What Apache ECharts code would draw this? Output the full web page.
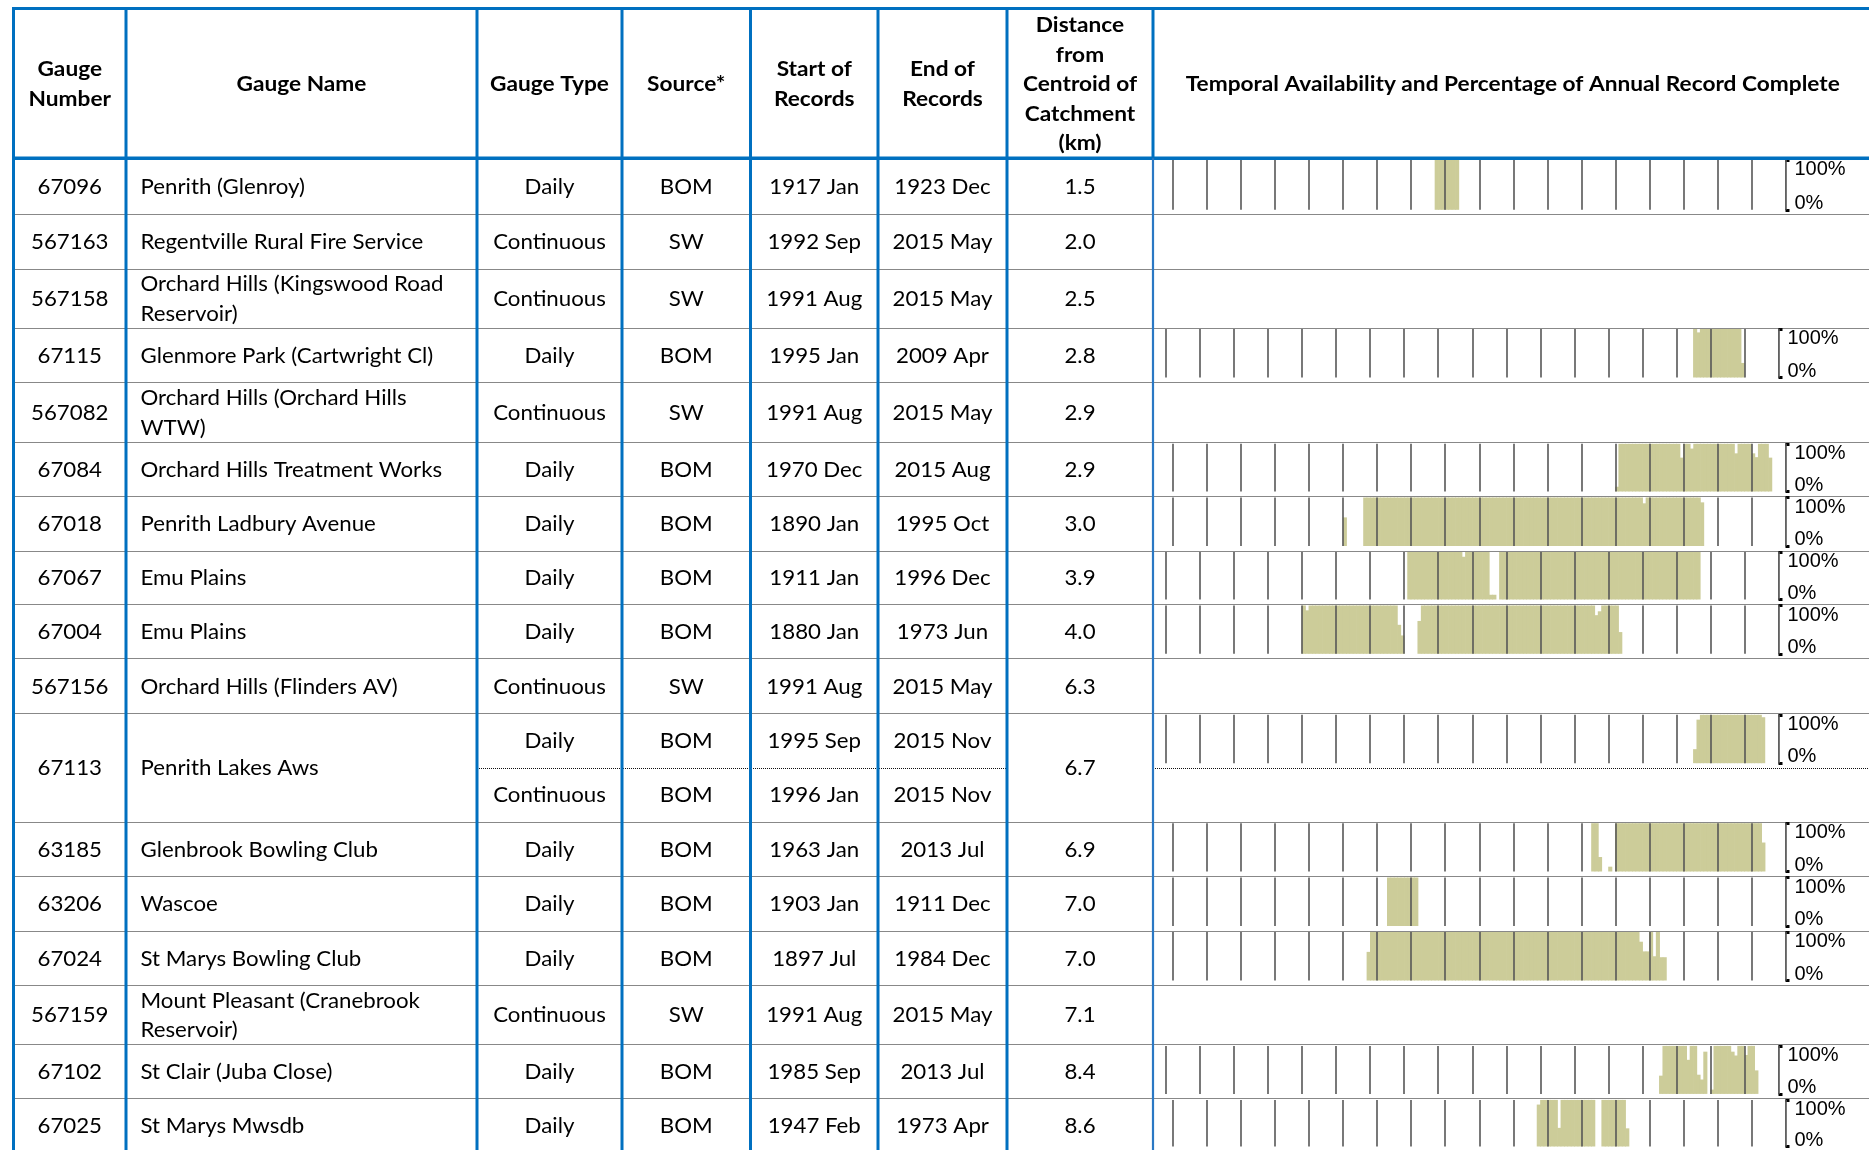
<!DOCTYPE html>
<html><head><meta charset="utf-8">
<script src="https://cdn.jsdelivr.net/npm/echarts@6/dist/echarts.min.js"></script>
<style>html,body{margin:0;padding:0;background:#fff;overflow:hidden}#c{width:1869px;height:1150px}</style>
</head><body><div id="c"></div>
<script>
// ================= DATA =================
// Gauge-level values (one per gauge)
const gaugeNumbers = ['67096','567163','567158','67115','567082','67084','67018','67067','67004','567156','67113','63185','63206','67024','567159','67102','67025'];
const gaugeNames = [['Penrith (Glenroy)'],['Regentville Rural Fire Service'],['Orchard Hills (Kingswood Road','Reservoir)'],['Glenmore Park (Cartwright Cl)'],['Orchard Hills (Orchard Hills','WTW)'],['Orchard Hills Treatment Works'],['Penrith Ladbury Avenue'],['Emu Plains'],['Emu Plains'],['Orchard Hills (Flinders AV)'],['Penrith Lakes Aws'],['Glenbrook Bowling Club'],['Wascoe'],['St Marys Bowling Club'],['Mount Pleasant (Cranebrook','Reservoir)'],['St Clair (Juba Close)'],['St Marys Mwsdb']];
const distances = ['1.5','2.0','2.5','2.8','2.9','2.9','3.0','3.9','4.0','6.3','6.7','6.9','7.0','7.0','7.1','8.4','8.6'];
// Record-level values (67113 has two records)
const recGauge  = [0,1,2,3,4,5,6,7,8,9,10,10,11,12,13,14,15,16];
const recTypes  = ['Daily','Continuous','Continuous','Daily','Continuous','Daily','Daily','Daily','Daily','Continuous','Daily','Continuous','Daily','Daily','Daily','Continuous','Daily','Daily'];
const recSources= ['BOM','SW','SW','BOM','SW','BOM','BOM','BOM','BOM','SW','BOM','BOM','BOM','BOM','BOM','SW','BOM','BOM'];
const recStarts = ['1917 Jan','1992 Sep','1991 Aug','1995 Jan','1991 Aug','1970 Dec','1890 Jan','1911 Jan','1880 Jan','1991 Aug','1995 Sep','1996 Jan','1963 Jan','1903 Jan','1897 Jul','1991 Aug','1985 Sep','1947 Feb'];
const recEnds   = ['1923 Dec','2015 May','2015 May','2009 Apr','2015 May','2015 Aug','1995 Oct','1996 Dec','1973 Jun','2015 May','2015 Nov','2015 Nov','2013 Jul','1911 Dec','1984 Dec','2015 May','2013 Jul','1973 Apr'];
// Header texts
const headers = [['Gauge','Number'],['Gauge Name'],['Gauge Type'],['Source*'],['Start of','Records'],['End of','Records'],['Distance','from','Centroid of','Catchment','(km)'],['Temporal Availability and Percentage of Annual Record Complete']];
const yTicks = [0, 100];
const xTicks = [1840, 2020, 10]; // min, max, step of the decade grid

// Annual percentage of record complete (first year, then one value per year)
const start67096 = 1917; const pct67096 = [100,100,100,100,100,100,100];
const start67115 = 1995; const pct67115 = [100,93,100,100,100, 100,100,100,100,100, 100,100,100,100,30];
const start67084 = 1970; const pct67084 = [
  10,100,100,100,100,100,100,100,100,100,
  100,100,100,100,100,100,100,100,100,71,
  100,100,90,100,100,100,100,100,100,100,
  100,100,100,100,100,80,100,100,100,100,
  80,72,100,100,100,71];
const start67018 = 1890; const pct67018 = [
  59,0,0,0,0,0,100,100,100,100,
  100,100,100,100,100,100,100,100,100,100,
  100,100,100,100,100,100,100,100,100,100,
  100,100,100,100,100,100,100,100,100,100,
  100,100,100,100,100,100,100,100,100,100,
  100,100,100,100,100,100,100,100,100,100,
  100,100,100,100,100,100,100,100,100,100,
  100,100,100,100,100,100,100,100,100,100,
  100,100,100,100,100,100,100,100,88,100,
  100,100,100,100,100,100,100,100,100,100,
  100,100,100,100,100,90];
const start67067 = 1911; const pct67067 = [
  100,100,100,100,100,100,100,100,100,
  100,100,100,100,100,100,100,90,100,100,
  100,100,100,100,100,10,10,0,100,100,
  100,100,100,100,100,100,100,100,100,100,
  100,100,100,100,100,100,100,100,100,100,
  100,100,100,100,100,100,100,100,100,100,
  100,100,100,100,100,100,100,100,100,100,
  100,100,100,100,100,100,100,100,100,100,
  100,100,100,100,100,100,100];
const start67004 = 1880; const pct67004 = [
  100,90,100,100,100,100,100,100,100,100,
  100,100,100,100,100,100,100,100,100,100,
  100,100,100,100,100,100,100,100,60,38,
  0,0,0,0,68,100,100,100,100,100,
  100,100,100,100,100,100,100,100,100,100,
  100,100,100,100,100,100,100,100,100,100,
  100,100,100,100,100,100,100,100,100,100,
  100,100,100,100,100,100,100,100,100,100,
  100,100,100,100,100,100,80,88,100,100,
  100,100,100,45];
const start67113 = 1995; const pct67113 = [29,90,100,100,100, 100,100,100,100,100,100,100,100,100,100, 100,100,100,100,100,95];
const start63185 = 1963; const pct63185 = [
  100,100,30,0,0,10,0,
  100,100,100,100,100,100,100,100,100,100,
  100,100,100,100,100,100,100,100,100,100,
  100,100,100,100,100,100,100,100,100,100,
  100,100,100,100,100,100,100,100,100,100,
  100,100,100,60];
const start63206 = 1903; const pct63206 = [100,100,100,100,100,100,100,100,100];
const start67024 = 1897; const pct67024 = [
  59,100,100,
  100,100,100,100,100,100,100,100,100,100,
  100,100,100,100,100,100,100,100,100,100,
  100,100,100,100,100,100,100,100,100,100,
  100,100,100,100,100,100,100,100,100,100,
  100,100,100,100,100,100,100,100,100,100,
  100,100,100,100,100,100,100,100,100,100,
  100,100,100,100,100,100,100,100,100,100,
  100,100,100,100,100,100,100,80,60,60,
  100,50,100,48,48];
const start67102 = 1985; const pct67102 = [
  38,100,100,100,100,
  100,100,100,71,100,100,40,30,88,0,
  9,100,100,100,100,100,88,80,100,100,
  81,100,100,49];
const start67025 = 1947; const pct67025 = [
  90,100,100,
  100,100,100,40,100,100,100,100,100,100,
  100,100,100,100,0,0,100,100,100,100,
  100,100,100,39];

// which record row each sparkline sits in
const sparks = [
  {rec:0,  start:start67096, pct:pct67096},
  {rec:3,  start:start67115, pct:pct67115},
  {rec:5,  start:start67084, pct:pct67084},
  {rec:6,  start:start67018, pct:pct67018},
  {rec:7,  start:start67067, pct:pct67067},
  {rec:8,  start:start67004, pct:pct67004},
  {rec:10, start:start67113, pct:pct67113},
  {rec:12, start:start63185, pct:pct63185},
  {rec:13, start:start63206, pct:pct63206},
  {rec:14, start:start67024, pct:pct67024},
  {rec:16, start:start67102, pct:pct67102},
  {rec:17, start:start67025, pct:pct67025}
];

// ================= LAYOUT =================
const W = 1869;
const colX = [13.5, 126, 477, 622, 750.5, 878, 1007, 1153];
const tableTop = 8.5, headBottom = 158.3;
const recLines = [158.3, 214.3, 268.5, 327.5, 382, 442.3, 496, 550.5, 604, 658.3, 713.3, 767.7, 821.7, 876, 930.5, 985, 1044.4, 1098.4, 1152.5];
const sparkLeft = [1173, 1166, 1173, 1173, 1166, 1166, 1166, 1173, 1173, 1173, 1166, 1173];
const sparkWidth = 612.5;
const BLUE = '#0070C0';
const FONT = 'Lato, "Open Sans", sans-serif';
const FS = 21;
const AXFONT = '"Liberation Sans", Arial, sans-serif';

const g = [];
function txt(x, y, s, bold, align) {
  g.push({type:'text', silent:true, z:10, x:x, y:y + 1, scaleX: bold ? 1.08 : 1.06,
    style:{text:s, x:0, y:0, fill:'#000',
    font:(bold?'bold ':'') + FS + 'px ' + FONT, textAlign:align||'center', textVerticalAlign:'middle', align:align||'center', verticalAlign:'middle'}});
}
function line(x1,y1,x2,y2,stroke,w,dash){
  g.push({type:'line', silent:true, z:dash?8:12, shape:{x1,y1,x2,y2}, style:{stroke, lineWidth:w, lineDash:dash||null}});
}
function lines(cx, cy, arr, bold, align, lh){
  const n = arr.length; lh = lh || 29.4;
  arr.forEach((s,i)=> txt(cx, cy + (i-(n-1)/2)*lh, s, bold, align));
}

// header texts
const headCy = (tableTop + headBottom)/2;
headers.forEach((h,i)=>{
  const cx = i < 7 ? (colX[i]+colX[i+1])/2 : 1512.7;
  lines(cx, headCy, h, true, 'center', 29.4);
});

// gauge spans over record rows
const gaugeSpan = gaugeNumbers.map((_,gi)=>{
  const recs = recGauge.map((v,k)=>v===gi?k:-1).filter(k=>k>=0);
  return [recs[0], recs[recs.length-1]];
});
gaugeNumbers.forEach((num,gi)=>{
  const [a,b] = gaugeSpan[gi];
  const cy = (recLines[a] + recLines[b+1])/2;
  txt((colX[0]+colX[1])/2, cy, num, false, 'center');
  lines(140.5, cy, gaugeNames[gi], false, 'left', 29.8);
  txt((colX[6]+colX[7])/2, cy, distances[gi], false, 'center');
});
recTypes.forEach((t,r)=>{
  const cy = (recLines[r] + recLines[r+1])/2;
  txt((colX[2]+colX[3])/2, cy, t, false, 'center');
  txt((colX[3]+colX[4])/2, cy, recSources[r], false, 'center');
  txt((colX[4]+colX[5])/2, cy, recStarts[r], false, 'center');
  txt((colX[5]+colX[6])/2, cy, recEnds[r], false, 'center');
});

// dotted row separators
for (let r = 1; r < recLines.length - 1; r++) {
  const y = Math.round(recLines[r]) + 0.5;
  if (recGauge[r] === recGauge[r-1]) {
    line(colX[2], y, colX[6], y, '#111', 1, [1,1]);
    line(colX[7], y, W, y, '#111', 1, [1,1]);
  } else {
    line(colX[0], y, W, y, '#111', 1, [1,1]);
  }
}
// blue frame
line(colX[0]-1.5, tableTop, W, tableTop, BLUE, 3.2);
line(colX[0]-1.5, headBottom, W, headBottom, BLUE, 3.6);
for (let i = 0; i < 7; i++) line(colX[i], tableTop, colX[i], 1160, BLUE, 3);
line(colX[7], tableTop, colX[7], headBottom, BLUE, 3);
line(colX[7], headBottom, colX[7], 1160, '#2a78c4', 2.2);

// ================= SPARKLINES =================
const grids = [], xAxes = [], yAxes = [], series = [];
sparks.forEach((s,i)=>{
  const top = recLines[s.rec] + 1.5;
  const bottom = recLines[s.rec+1] - 4.5;
  grids.push({left: sparkLeft[i], top: top, width: sparkWidth, height: bottom - top});
  xAxes.push({gridIndex:i, type:'value', min:xTicks[0], max:xTicks[1], interval:xTicks[2], z:5,
    axisLine:{show:false}, axisTick:{show:false}, axisLabel:{show:false},
    splitLine:{show:true, lineStyle:{color:'#575757', width:1.6}}});
  yAxes.push({gridIndex:i, type:'value', min:yTicks[0], max:yTicks[1], interval:yTicks[1]-yTicks[0], position:'right',
    axisLine:{show:true, lineStyle:{color:'#8a8a8a', width:1}},
    axisTick:{show:true, length:4, inside:false, lineStyle:{color:'#000', width:3}},
    axisLabel:{margin:9,
      formatter: v => (v === yTicks[1] ? '{t|' : '{b|') + v + '%}',
      rich:{
        t:{fontFamily:AXFONT, fontSize:20, lineHeight:19, color:'#000'},
        b:{fontFamily:AXFONT, fontSize:20, lineHeight:13, color:'#000'}
      },
      verticalAlignMaxLabel:'top', verticalAlignMinLabel:'bottom'},
    splitLine:{show:false}});
  series.push({type:'bar', xAxisIndex:i, yAxisIndex:i, silent:true,
    data: s.pct.map((v,k)=>[s.start + k + 0.5, v]),
    barWidth: sparkWidth/180 + 0.7, itemStyle:{color:'#CCCC99'}});
});

const chart = echarts.init(document.getElementById('c'), null, {renderer:'canvas'});
chart.setOption({
  animation:false,
  backgroundColor:'#ffffff',
  grid: grids, xAxis: xAxes, yAxis: yAxes, series: series,
  graphic: {elements: g}
});
</script>
</body></html>
